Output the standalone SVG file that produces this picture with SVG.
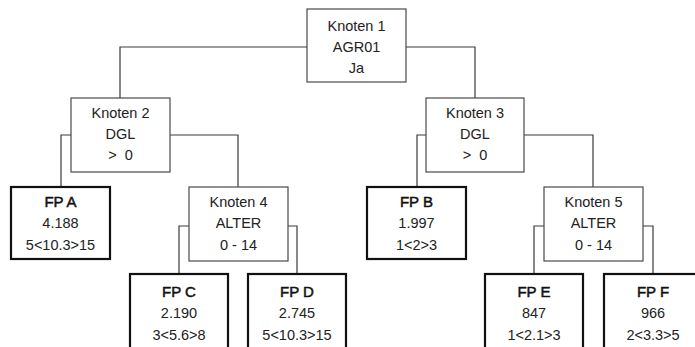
<svg xmlns="http://www.w3.org/2000/svg" width="695" height="347" viewBox="0 0 695 347">
<style>
.k{fill:#fff;stroke:#4a4a4a;stroke-width:1.2}
.fp{fill:#fff;stroke:#111;stroke-width:2.2}
.c{fill:none;stroke:#3a3a3a;stroke-width:1.2}
text{font-family:"Liberation Sans",Arial,sans-serif;font-size:14.5px;fill:#222;text-anchor:middle}
.b{font-size:15px;fill:#111;stroke:#111;stroke-width:0.5}
</style>
<rect width="695" height="347" fill="#fff"/>
<g id="connectors">
<polyline class="c" points="307,47 120,47 120,98"/>
<polyline class="c" points="406,47 475,47 475,98"/>
<polyline class="c" points="71,135 61,135 61,187"/>
<polyline class="c" points="170,135 238,135 238,187"/>
<polyline class="c" points="426,135 417,135 417,187"/>
<polyline class="c" points="524,135 593,135 593,187"/>
<polyline class="c" points="189,226 179,226 179,274"/>
<polyline class="c" points="288,226 297,226 297,274"/>
<polyline class="c" points="544,226 534,226 534,274"/>
<polyline class="c" points="643,226 653,226 653,274"/>
</g>
<g id="knoten1">
<rect class="k" x="307" y="9" width="99" height="73"/>
<text x="356.5" y="31">Knoten 1</text>
<text x="356.5" y="52">AGR01</text>
<text x="356.5" y="73">Ja</text>
</g>
<g id="knoten2">
<rect class="k" x="71" y="98" width="99" height="74"/>
<text x="120.5" y="118">Knoten 2</text>
<text x="120.5" y="139">DGL</text>
<text x="120.5" y="160" xml:space="preserve">&gt;  0</text>
</g>
<g id="knoten3">
<rect class="k" x="426" y="98" width="98" height="74"/>
<text x="475" y="118">Knoten 3</text>
<text x="475" y="139">DGL</text>
<text x="475" y="160" xml:space="preserve">&gt;  0</text>
</g>
<g id="knoten4">
<rect class="k" x="189" y="187" width="99" height="74"/>
<text x="238.5" y="207">Knoten 4</text>
<text x="238.5" y="228">ALTER</text>
<text x="238.5" y="250">0 - 14</text>
</g>
<g id="knoten5">
<rect class="k" x="544" y="187" width="99" height="74"/>
<text x="593.5" y="207">Knoten 5</text>
<text x="593.5" y="228">ALTER</text>
<text x="593.5" y="250">0 - 14</text>
</g>
<g id="fpA">
<rect class="fp" x="11" y="187" width="99" height="72"/>
<text class="b" x="60.5" y="207">FP A</text>
<text x="60.5" y="228">4.188</text>
<text x="60.5" y="250">5&lt;10.3&gt;15</text>
</g>
<g id="fpB">
<rect class="fp" x="367" y="187" width="99" height="72"/>
<text class="b" x="416.5" y="207">FP B</text>
<text x="416.5" y="228">1.997</text>
<text x="416.5" y="250">1&lt;2&gt;3</text>
</g>
<g id="fpC">
<rect class="fp" x="130" y="274" width="98" height="80"/>
<text class="b" x="179" y="297">FP C</text>
<text x="179" y="318">2.190</text>
<text x="179" y="340">3&lt;5.6&gt;8</text>
</g>
<g id="fpD">
<rect class="fp" x="248" y="274" width="98" height="80"/>
<text class="b" x="297" y="297">FP D</text>
<text x="297" y="318">2.745</text>
<text x="297" y="340">5&lt;10.3&gt;15</text>
</g>
<g id="fpE">
<rect class="fp" x="485" y="274" width="98" height="80"/>
<text class="b" x="534" y="297">FP E</text>
<text x="534" y="318">847</text>
<text x="534" y="340">1&lt;2.1&gt;3</text>
</g>
<g id="fpF">
<rect class="fp" x="604" y="274" width="98" height="80"/>
<text class="b" x="653" y="297">FP F</text>
<text x="653" y="318">966</text>
<text x="653" y="340">2&lt;3.3&gt;5</text>
</g>
</svg>
